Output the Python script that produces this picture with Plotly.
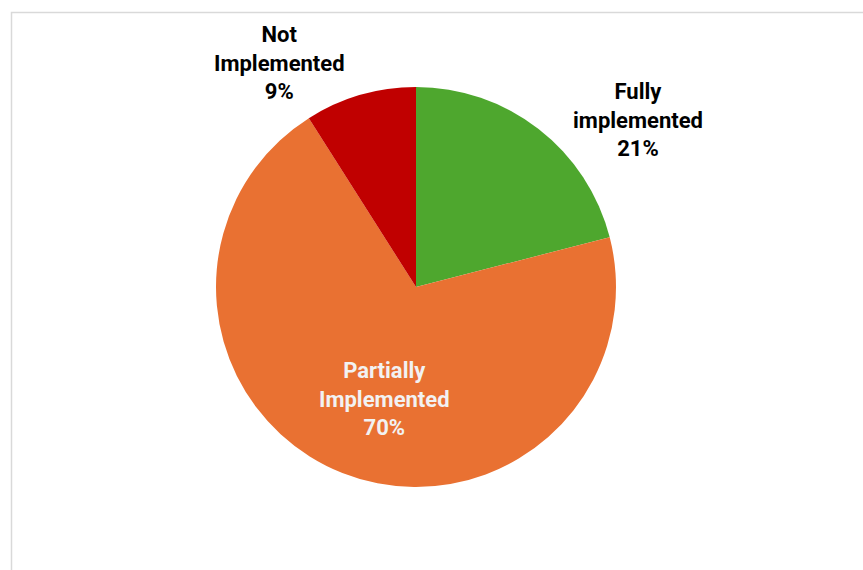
import math
import plotly.graph_objects as go

categories = ["Fully implemented", "Partially Implemented", "Not Implemented"]
label_lines = [["Fully", "implemented"], ["Partially", "Implemented"], ["Not", "Implemented"]]
values = [21, 70, 9]
colors = ["#4EA72E", "#E97132", "#C00000"]
text_colors = ["#000000", "#F2F2F2", "#000000"]
# label placement: (angle clockwise from 12 o'clock in degrees, distance as fraction of radius)
label_place = [(53.0, 1.39), (196.0, 0.58), (328.7, 1.31)]

W, H = 863, 570
cx, cy, r = 416, 287, 200

fig = go.Figure(go.Pie(
    labels=categories,
    values=values,
    marker=dict(colors=colors, line=dict(width=0)),
    sort=False,
    direction="clockwise",
    rotation=0,
    textinfo="none",
    hoverinfo="label+percent",
    showlegend=False,
    domain=dict(x=[(cx - r) / W, (cx + r) / W], y=[1 - (cy + r) / H, 1 - (cy - r) / H]),
))

total = sum(values)
annotations = []
for lines, v, tc, (ang, d) in zip(label_lines, values, text_colors, label_place):
    a = math.radians(ang)
    px = cx + d * r * math.sin(a)
    py = cy - d * r * math.cos(a)
    pct = round(v / total * 100)
    annotations.append(dict(
        x=px / W, y=1 - py / H, xref="paper", yref="paper",
        text="<br>".join(lines + [f"{pct}%"]),
        showarrow=False, xanchor="center", yanchor="middle",
        font=dict(family="Roboto", size=22, color=tc, weight="bold"),
        align="center",
    ))

fig.update_layout(
    width=W, height=H,
    margin=dict(l=0, r=0, t=0, b=0),
    paper_bgcolor="white",
    plot_bgcolor="white",
    annotations=annotations,
    shapes=[dict(type="rect", xref="paper", yref="paper",
                 x0=11.5 / W, x1=(W + 10) / W, y0=-0.05, y1=1 - 12.5 / H,
                 line=dict(color="#D9D9D9", width=1.5), fillcolor="rgba(0,0,0,0)", layer="below")],
)

fig.write_html("out.html", config={"displayModeBar": False},
               post_script="document.body.style.margin='0';document.body.style.overflow='hidden';")
